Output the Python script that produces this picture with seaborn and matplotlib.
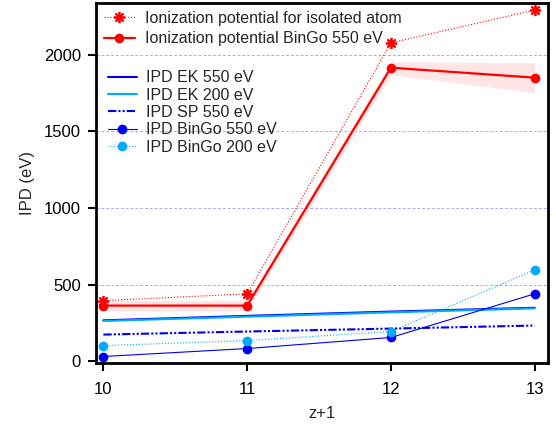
import numpy as np
import pandas as pd
import matplotlib
matplotlib.use("Agg")
import matplotlib.pyplot as plt
import seaborn as sns

z = [10, 11, 12, 13]
ip_isolated = [396, 441, 2078, 2292]
ip_bingo_550 = [364, 364, 1916, 1851]
ip_bingo_lo = [330, 330, 1870, 1753]
ip_bingo_hi = [398, 398, 1955, 1948]
ipd_ek_550 = [268, 297, 325, 350]
ipd_ek_200 = [264, 292, 320, 346]
ipd_sp_550 = [175, 195, 214, 234]
ipd_bingo_550 = [32, 84, 156, 441]
ipd_bingo_200 = [103, 136, 195, 597]

sns.set_style("white")
plt.rcParams["font.family"] = ["Liberation Sans", "DejaVu Sans"]

fig, ax = plt.subplots(figsize=(5.56, 4.28), dpi=100)
fig.subplots_adjust(left=0.173, right=0.985, top=0.993, bottom=0.152)

for yv in [500, 1000, 1500, 2000]:
    ax.axhline(yv, color="#7070ff", lw=0.7, ls=(0, (3, 2)), alpha=0.6, zorder=0)

red = "#ff0000"
ax.fill_between(z, ip_bingo_lo, ip_bingo_hi, color="#ffcccc", alpha=0.5, lw=0, zorder=1)

sns.lineplot(x=z, y=ip_isolated, ax=ax, color=red, lw=0.8, ls=":",
             marker=(8, 2, 0), markersize=8, markeredgewidth=1.3,
             markeredgecolor=red, label="Ionization potential for isolated atom")
sns.lineplot(x=z, y=ip_bingo_550, ax=ax, color=red, lw=1.6, marker="o",
             markersize=7, markeredgewidth=0, label="Ionization potential BinGo 550 eV")
sns.lineplot(x=z, y=ipd_ek_550, ax=ax, color="#0000ee", lw=1.5, label="IPD EK 550 eV")
sns.lineplot(x=z, y=ipd_ek_200, ax=ax, color="#00aaff", lw=1.5, label="IPD EK 200 eV")
sns.lineplot(x=z, y=ipd_sp_550, ax=ax, color="#0000ee", lw=1.5, ls=(0, (4, 1, 1, 1, 1, 1)),
             label="IPD SP 550 eV")
sns.lineplot(x=z, y=ipd_bingo_550, ax=ax, color="#0000ee", lw=0.8, marker="o",
             markersize=7, markeredgewidth=0, label="IPD BinGo 550 eV")
sns.lineplot(x=z, y=ipd_bingo_200, ax=ax, color="#00aaff", lw=0.8, ls=":", marker="o",
             markersize=7, markeredgewidth=0, label="IPD BinGo 200 eV")

handles, labels = ax.get_legend_handles_labels()
leg1 = ax.legend(handles[:2], labels[:2], loc="upper left", bbox_to_anchor=(-0.005, 1.005),
                 frameon=False, fontsize=11.5, handlelength=2.0, handletextpad=0.6,
                 labelspacing=0.35, borderaxespad=0.2)
ax.add_artist(leg1)
ax.legend(handles[2:], labels[2:], loc="upper left", bbox_to_anchor=(0.005, 0.84),
          frameon=False, fontsize=11.5, handlelength=1.8, handletextpad=0.6,
          labelspacing=0.15, borderaxespad=0.2)

ax.set_xlim(9.95, 13.09)
ax.set_ylim(-10, 2338)
ax.set_xticks(z)
ax.set_yticks([0, 500, 1000, 1500, 2000])
ax.tick_params(axis="both", direction="out", length=6, width=1.5, labelsize=12,
               bottom=True, left=True, colors="black", pad=5)
ax.tick_params(axis="x", pad=8)
for s in ax.spines.values():
    s.set_color("black")
    s.set_linewidth(2)
ax.set_xlabel("z+1", fontsize=12, labelpad=6)
ax.set_ylabel("IPD (eV)", fontsize=12, labelpad=6)

fig.savefig("out.png", dpi=100)
